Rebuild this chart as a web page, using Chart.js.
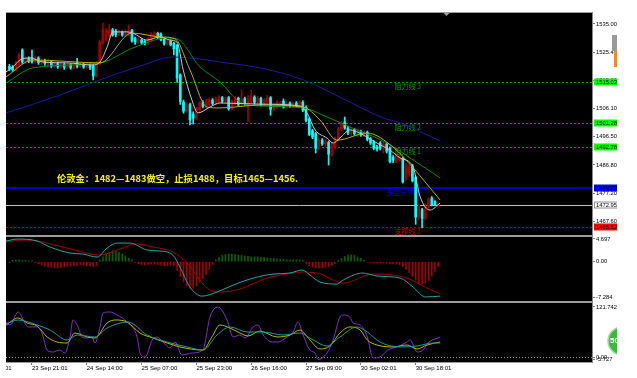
<!DOCTYPE html>
<html>
<head>
<meta charset="utf-8">
<script src="https://cdn.jsdelivr.net/npm/chart.js@4.4.1/dist/chart.umd.min.js"></script>
<style>
  html, body { margin: 0; padding: 0; background: #fff; }
  #wrap { position: relative; width: 617px; height: 378px; overflow: hidden; background: #fff; }
  #wrap div, #wrap canvas { position: absolute; }
  .pane { left: 6px; top: 12px; width: 587px; height: 351px; background: #000; }
  .sep { left: 6px; width: 587px; background: #9c9c9c; z-index: 5; }
  .vline { left: 592px; top: 12px; width: 1px; height: 351px; background: #8a8a8a; z-index: 5; }
</style>
</head>
<body>
<div id="wrap">
  <div class="pane"></div>
  <canvas id="main" width="637" height="236" style="left:0;top:0"></canvas>
  <canvas id="macd" width="637" height="66" style="left:0;top:236px"></canvas>
  <canvas id="osc" width="637" height="76" style="left:0;top:302px"></canvas>
  <div class="sep" style="top:12px;height:1px"></div>
  <div class="sep" style="top:235px;height:2px"></div>
  <div class="sep" style="top:301px;height:2px"></div>
  <div class="sep" style="top:362px;height:1px"></div>
  <div class="vline"></div>
</div>
<script>
// ---- candles (hourly bars, index 0..133) ----
const opens = [
  1520.5,1520.2,1519.3,1521.0,1526.1,1522.0,1523.2,1523.6,1522.0,1523.4, // 0-9
  1521.8,1522.6,1521.0,1522.0,1520.5,1521.5,1520.3,1521.2,1520.2,1521.2, // 10-19
  1520.0,1522.0,1520.5,1521.2,1520.3,1521.0,1520.8,1517.2,1521.5,1528.5, // 20-29
  1530.0,1531.0,1533.0,1532.6,1531.3,1532.2,1531.2,1531.5,1532.8,1530.0, // 30-39
  1528.8,1529.6,1529.0,1528.3,1529.5,1530.5,1531.8,1531.5,1529.8,1528.2, // 40-49
  1529.2,1528.4,1527.8,1517.6,1508.3,1505.2,1507.5,1504.2,1502.8,1505.5, // 50-59
  1508.2,1506.8,1507.5,1509.0,1507.8,1508.5,1509.8,1508.6,1509.8,1506.0, // 60-69
  1507.8,1509.6,1507.5,1509.5,1506.5,1508.5,1510.0,1508.2,1509.6,1507.5, // 70-79
  1508.3,1509.8,1505.8,1506.8,1507.2,1508.6,1506.6,1508.0,1507.0,1508.0, // 80-89
  1507.2,1508.3,1506.5,1502.5,1498.5,1497.5,1492.5,1495.3,1494.0,1494.5, // 90-99
  1490.5,1493.0,1495.5,1499.0,1501.5,1499.4,1497.7,1498.8,1497.0,1498.3, // 100-109
  1497.0,1498.0,1495.8,1494.8,1493.0,1494.3,1492.5,1494.0,1492.5,1489.5, // 110-119
  1488.0,1488.5,1489.0,1482.0,1484.0,1486.5,1482.5,1469.0,1471.5,1468.5, // 120-129
  1472.8,1475.5,1474.2,1472.6                                            // 130-133
];
const highs = [
  1521.2,1520.8,1522.3,1525.0,1526.5,1523.8,1523.8,1526.1,1524.0,1523.8,
  1523.2,1523.0,1522.8,1522.5,1522.0,1522.0,1521.8,1521.6,1521.6,1521.5,
  1522.2,1523.3,1521.6,1521.6,1521.5,1521.4,1521.2,1522.2,1529.5,1535.3,
  1533.5,1535.0,1533.5,1533.2,1532.8,1532.6,1533.0,1534.7,1533.2,1530.5,
  1530.2,1530.0,1529.4,1530.5,1532.2,1532.4,1532.2,1532.0,1530.2,1529.6,
  1529.6,1528.8,1528.0,1518.0,1509.0,1508.0,1508.0,1505.0,1506.5,1508.6,
  1508.8,1509.3,1509.8,1509.5,1510.0,1510.5,1510.2,1510.0,1510.2,1509.0,
  1510.2,1510.0,1512.4,1510.0,1510.5,1512.4,1510.5,1510.3,1510.0,1509.3,
  1510.6,1510.2,1508.0,1508.8,1508.5,1509.4,1508.2,1508.4,1508.3,1508.5,
  1508.8,1508.8,1507.0,1503.0,1499.0,1498.0,1496.0,1495.8,1495.4,1495.0,
  1494.6,1496.4,1499.6,1501.6,1503.2,1500.0,1499.4,1499.3,1498.9,1498.7,
  1498.4,1498.4,1496.2,1495.2,1493.5,1494.8,1494.6,1494.4,1493.0,1490.0,
  1490.5,1490.2,1489.5,1487.2,1486.8,1487.0,1483.0,1473.6,1472.0,1473.4,
  1475.6,1476.0,1474.6,1473.5
];
const lows = [
  1519.0,1518.8,1519.0,1520.5,1521.5,1521.5,1521.8,1521.6,1521.5,1521.2,
  1521.0,1520.8,1520.5,1520.0,1520.0,1519.8,1519.8,1519.5,1519.8,1519.5,
  1519.6,1520.0,1520.0,1519.8,1519.8,1519.4,1515.9,1516.8,1521.0,1528.0,
  1529.2,1530.5,1530.8,1530.6,1530.9,1530.8,1530.9,1531.0,1528.8,1528.0,
  1528.4,1528.0,1527.8,1528.0,1529.0,1530.2,1530.0,1529.2,1527.8,1527.8,
  1527.5,1524.4,1515.0,1507.5,1504.5,1504.8,1500.5,1500.8,1502.2,1505.0,
  1506.3,1506.4,1507.0,1507.2,1507.4,1508.0,1508.0,1508.2,1505.5,1505.6,
  1507.3,1507.0,1507.0,1507.2,1501.5,1508.0,1507.6,1507.8,1507.0,1507.0,
  1508.0,1503.8,1505.3,1506.3,1506.8,1506.2,1506.2,1506.5,1506.6,1506.8,
  1506.9,1505.0,1501.5,1496.8,1495.8,1490.9,1492.0,1493.5,1493.2,1486.8,
  1489.8,1492.5,1495.0,1498.5,1499.0,1497.2,1496.9,1497.0,1496.4,1496.6,
  1496.5,1495.0,1493.8,1492.0,1491.5,1491.9,1490.9,1490.9,1487.5,1487.6,
  1487.5,1488.0,1480.6,1481.6,1483.0,1481.0,1466.5,1468.0,1465.3,1468.0,
  1472.0,1472.8,1472.9,1472.4
];
const closes = [
  1519.6,1519.3,1521.5,1524.5,1522.0,1523.0,1522.3,1522.0,1523.4,1521.8,
  1522.6,1521.5,1522.2,1520.5,1521.5,1520.3,1521.0,1520.2,1521.2,1520.0,
  1521.7,1520.5,1521.2,1520.3,1521.0,1520.0,1517.2,1521.7,1528.8,1533.0,
  1532.8,1533.0,1531.2,1531.3,1532.2,1531.2,1532.4,1532.8,1529.2,1528.8,
  1529.6,1528.5,1528.3,1530.0,1531.5,1531.8,1530.3,1529.5,1528.2,1529.0,
  1527.9,1526.5,1516.5,1508.5,1505.2,1507.5,1502.2,1502.8,1506.0,1508.0,
  1506.8,1508.5,1509.0,1507.8,1509.2,1509.8,1508.6,1509.6,1506.0,1508.5,
  1509.6,1507.5,1509.2,1507.8,1509.0,1510.0,1508.2,1509.6,1507.5,1508.8,
  1509.8,1505.8,1507.3,1508.2,1508.0,1506.6,1507.8,1507.0,1507.9,1507.2,
  1508.3,1505.5,1502.0,1497.2,1496.4,1492.5,1495.3,1494.0,1494.8,1490.5,
  1494.0,1495.8,1499.0,1501.0,1499.4,1497.7,1498.8,1497.5,1498.3,1497.0,
  1497.9,1495.5,1494.3,1492.5,1492.3,1492.5,1494.0,1491.5,1488.0,1488.5,
  1490.0,1489.5,1481.0,1486.5,1486.0,1481.5,1469.0,1473.0,1468.5,1472.8,
  1475.0,1473.2,1473.3,1472.95
];

// ---- moving averages: [bar, price] ----
const maFast = [[-1.05,1518.6],[1.1,1520.3],[3.3,1522.7],[6.4,1523.4],[10.4,1522.0],[17.9,1521.7],[25.9,1521.0],[28.1,1522.0],[30.3,1527.1],[32.1,1532.3],[36.5,1532.3],[38.3,1531.9],[42.7,1529.5],[46.7,1530.6],[49.8,1529.5],[52,1528.8],[53.9,1519.3],[56.6,1509.0],[58.5,1504.6],[62.2,1506.6],[65.3,1508.0],[77.7,1507.6],[90.1,1507.0],[92.3,1504.6],[94.8,1498.8],[98.5,1496.0],[100.4,1494.3],[102.5,1496.0],[105.6,1498.8],[109.7,1497.1],[114,1494.3],[118,1491.9],[121.2,1489.2],[125.2,1486.1],[127.4,1475.9],[130.5,1471.4],[133.6,1473.8]];
const maMid = [[-1.05,1516.9],[7.3,1522.7],[28.1,1521.7],[38,1531.9],[46.7,1530.6],[51.4,1529.9],[56,1519.3],[61.3,1506.6],[65.3,1506.3],[77.7,1507.3],[91.1,1506.6],[96.3,1502.2],[101.6,1495.3],[111,1497.7],[119,1492.9],[125.2,1485.8],[133.6,1474.8]];
const maSlow = [[-1.05,1514.8],[7.3,1520.0],[28.1,1521.7],[38.3,1526.8],[48.9,1530.2],[52,1529.9],[59.1,1520.3],[65.3,1515.2],[71.5,1508.3],[77.7,1507.0],[91.1,1506.3],[98.5,1503.2],[105.6,1499.8],[117.1,1494.3],[125.2,1488.5],[133.6,1482.4]];
const maLong = [[-1.05,1504.6],[15.7,1510.7],[28.1,1515.9],[40.5,1520.6],[50.7,1523.7],[59.1,1523.0],[65.3,1522.0],[77.7,1520.0],[91.1,1515.9],[102.5,1510.0],[115.9,1502.9],[121.2,1501.2],[133.6,1495.0]];

// ---- MACD ----
const macdMain = [[-1.05,4.28],[2.7,4.69],[8.6,4.28],[12.6,3.04],[18.8,1.80],[22.8,1.59],[27.2,0.97],[30.3,2.83],[33.4,3.86],[37.4,3.86],[42.7,2.42],[46.7,2.21],[50.7,1.38],[52.9,-1.10],[56,-5.23],[59.7,-7.1],[64.4,-6.26],[69.4,-4.81],[75.6,-3.37],[81.8,-2.54],[87,-2.33],[90.8,-1.71],[93.2,-2.75],[96.3,-4.19],[101.6,-4.61],[103.5,-3.78],[109.7,-2.33],[114,-2.95],[121.2,-3.37],[125.2,-5.23],[129,-7.28],[133.6,-7.1]];
const macdSignal = [[-1.05,4.07],[4.2,4.48],[8.6,4.28],[17.9,2.83],[28.1,1.38],[33.4,2.42],[39.6,3.66],[44.5,3.04],[50.7,2.0],[55.1,-0.27],[61.3,-5.43],[65.3,-6.26],[71.5,-5.64],[79.9,-3.37],[88,-2.33],[90.1,-2.13],[95.4,-2.33],[103.5,-4.40],[112.8,-2.54],[123.3,-3.37],[129.5,-5.43],[133.6,-6.67]];
const macdHist = [
  -0.2,0.3,0.4,0.4,0.3,0.3,0.2,0.2,                                  // 0-7
  -0.2,-0.4,-0.7,-0.9,-1.1,-1.2,-1.3,-1.3,-1.2,-1.1,-1.0,-0.9,-0.8,-0.8,-0.7,-0.7,-0.8,-0.9,-1.0,-0.8, // 8-27
  0.4,1.0,1.6,2.0,2.3,2.3,2.0,1.6,1.2,0.8,0.4,                       // 28-38
  -0.2,-0.4,-0.6,-0.7,-0.6,-0.5,-0.5,-0.6,-0.7,-0.8,-0.8,-0.7,-0.8,  // 39-51
  -1.8,-3.0,-4.2,-5.0,-5.5,-5.5,-5.0,-4.3,-3.5,-2.6,-1.6,-0.6,       // 52-63
  0.4,0.9,1.3,1.5,1.6,1.6,1.5,1.4,1.3,1.2,1.1,1.0,1.0,1.0,0.9,0.9,0.8,0.7,0.7,0.6,0.5,0.5,0.4,0.4,0.4,0.4,0.4,0.3, // 64-91
  -0.4,-0.8,-1.1,-1.3,-1.3,-1.2,-1.1,-1.0,-0.8,-0.4,                 // 92-101
  0.3,0.7,1.1,1.4,1.4,1.3,1.0,0.7,0.3,                               // 102-110
  -0.1,-0.2,-0.3,-0.3,-0.3,-0.3,-0.3,-0.4,-0.4,-0.5,-0.6,-1.0,       // 111-122
  -1.6,-2.2,-3.0,-3.8,-4.3,-4.6,-4.4,-3.8,-3.0,-2.0,-1.0             // 123-133
];

// ---- oscillator (3 lines) ----
const oscFast = [[-1.05,85.2],[0.2,77.9],[2.7,109.6],[4.8,82.8],[5.8,73.1],[8.6,73.1],[10.1,58.4],[11.7,17.0],[13.5,12.2],[15.7,17.0],[17.2,9.7],[18.8,48.7],[19.7,90.1],[21.3,73.1],[22.5,48.7],[24.1,46.3],[25.6,48.7],[26.5,34.1],[28.1,73.1],[29,107.1],[31.2,109.6],[33.4,102.3],[36.5,85.2],[39.6,48.7],[40.5,9.7],[42.1,0],[44.3,41.4],[45.8,48.7],[47.6,36.5],[49.8,21.9],[51.4,36.5],[53.5,4.9],[56.6,9.7],[60,17.0],[62.2,97.4],[64.7,121.7],[67.5,90.1],[69.4,48.7],[71.5,53.6],[73.1,46.3],[75.6,73.1],[77.1,77.9],[78.7,53.6],[81.5,36.5],[83.3,36.5],[86.1,48.7],[88,60.9],[89.5,85.2],[91.1,53.6],[93.2,17.0],[94.8,9.7],[95.7,-5.7],[98.5,9.7],[100.4,41.4],[102.5,97.4],[103.5,102.3],[105.6,97.4],[106.6,82.8],[108.8,77.9],[111,48.7],[112.8,-2.4],[114.9,0],[117.4,17.0],[120.2,24.4],[123.3,36.5],[124.3,41.4],[126.4,12.2],[128.3,17.0],[129.8,34.1],[133.6,48.7]];
const oscMid = [[-1.05,77.9],[2.7,95.0],[5.5,82.8],[8.6,75.5],[11.7,48.7],[14.8,36.5],[17.9,34.1],[20.3,58.4],[24.1,48.7],[26.5,46.3],[30.3,82.8],[32.8,90.1],[36.5,85.2],[40.5,58.4],[44.5,46.3],[48.9,34.1],[52.9,24.4],[60,17.0],[62.8,48.7],[65.3,77.9],[68.4,70.6],[71.5,58.4],[74,51.1],[77.7,63.3],[83,48.7],[87,53.6],[90.1,65.7],[93.2,41.4],[96.3,19.5],[99.4,26.8],[102.5,58.4],[105.6,73.1],[108.8,65.7],[111,41.4],[114,29.2],[119,24.4],[123.3,29.2],[126.4,19.5],[129.5,29.2],[133.6,36.5]];
const oscSlow = [[-1.05,80.4],[2.7,90.1],[8.6,77.9],[12.6,65.7],[17.9,41.4],[21,53.6],[26.5,48.7],[30.3,70.6],[36.8,85.2],[42.7,53.6],[48.9,36.5],[55.1,24.4],[60,17.0],[64.4,53.6],[68.4,73.1],[73.7,60.9],[78.7,60.9],[84.9,53.6],[90.1,58.4],[94.2,41.4],[98.5,26.8],[102.5,48.7],[107.8,73.1],[111,60.9],[114.9,36.5],[121.2,24.4],[126.4,26.8],[131.4,34.1],[133.6,34.1]];

// ---- axes / levels ----
const timeIdx = [7, 24, 41, 58, 75, 92, 109, 126];
const timeLabels = ['23 Sep 21:01','24 Sep 14:00','25 Sep 07:00','25 Sep 23:00','26 Sep 16:00','27 Sep 09:00','30 Sep 02:01','30 Sep 18:01'];
const firstLabel = { idx: -10.4, text: '23 Sep 04:01' };  // cut off at the left edge
const priceTicks = [1535.00, 1525.40, 1515.80, 1506.10, 1496.50, 1486.80, 1477.20, 1467.60];
const macdTicks = [4.697, 0, -7.284];
const macdTickText = ['4.697', '0.00', '-7.284'];
const oscTicks = [121.742, 0, -5.727];
const oscTickText = ['121.742', '0.00', '-5.727'];
const levelVals = [1515.03, 1501.28, 1492.78, 1479.02, 1465.52];
const levelNames = ['阻力线 3', '阻力线 2', '阻力线 1', '多空分界线', '支撑线 1'];
const lastPrice = 1472.95;
const note = '伦敦金：1482—1483做空，止损1488，目标1465—1456.';

const X_MIN = -1.055, X_MAX = 181.0;
const CYAN = '#00ffff', RED = '#a00000';
const FONT = 'Liberation Sans';

const pts = arr => arr.map(p => ({ x: p[0], y: p[1] }));
const candleCol = closes.map((c, i) => c >= opens[i] ? RED : CYAN);

function xAxis(show) {
  return {
    type: 'linear', min: X_MIN, max: X_MAX, offset: false, display: show,
    grid: { offset: false, drawOnChartArea: false, tickLength: 3, color: '#808080' },
    border: { display: false },
    afterBuildTicks: s => { s.ticks = timeIdx.map(v => ({ value: v })); },
    afterFit: s => { s.height = show ? 16 : 0; s.paddingLeft = 0; s.paddingRight = 0; },
    ticks: { autoSkip: false, maxRotation: 0, align: 'start', padding: 0, color: '#000',
      font: { family: FONT, size: 6 }, callback: (v, i) => timeLabels[i] }
  };
}
function yAxis(min, max, vals, texts) {
  return {
    position: 'right', min, max,
    afterFit: s => { s.width = 44; s.paddingTop = 0; s.paddingBottom = 0; },
    afterBuildTicks: s => { s.ticks = vals.map(v => ({ value: v })); },
    ticks: { autoSkip: false, padding: 1, color: '#000', font: { family: FONT, size: 5.8 },
      callback: (v, i) => texts[i] },
    grid: { drawOnChartArea: false, drawTicks: true, tickLength: 2, color: '#808080' },
    border: { display: false }
  };
}
function line(data, color, order) {
  return { type: 'line', data: pts(data), borderColor: color, borderWidth: 1, pointRadius: 0,
    cubicInterpolationMode: 'monotone', fill: false, order, clip: 0 };
}
const common = {
  responsive: false, animation: false, devicePixelRatio: 1, events: [],
  plugins: { legend: { display: false }, tooltip: { enabled: false } }
};

// levels, note and axis boxes on the price pane
const levelPlugin = {
  id: 'levels',
  beforeDatasetsDraw(chart) {
    const { ctx, chartArea: a, scales: { y } } = chart;
    ctx.save();
    levelVals.forEach((v, i) => {
      const py = Math.round(y.getPixelForValue(v));
      const blue = i === 3, red = i === 4;
      ctx.strokeStyle = blue ? '#0000c8' : red ? '#c00000' : '#00a000';
      ctx.lineWidth = blue ? 2 : 1;
      ctx.setLineDash(blue ? [] : [2, 2]);
      ctx.beginPath();
      ctx.moveTo(a.left, py + (blue ? 0 : 0.5));
      ctx.lineTo(a.right, py + (blue ? 0 : 0.5));
      ctx.stroke();
      ctx.fillStyle = blue ? '#0000e0' : red ? '#d00000' : '#00a000';
      ctx.font = '7px "Noto Sans CJK SC"';
      ctx.textAlign = 'right';
      ctx.textBaseline = 'top';
      ctx.fillText(levelNames[i], 421, py + 0.5);
    });
    const lp = Math.round(y.getPixelForValue(lastPrice)) + 0.5;
    ctx.setLineDash([]);
    ctx.strokeStyle = '#bdbdbd';
    ctx.lineWidth = 1;
    ctx.beginPath(); ctx.moveTo(a.left, lp); ctx.lineTo(a.right, lp); ctx.stroke();
    ctx.restore();
  },
  afterDatasetsDraw(chart) {
    const { ctx } = chart;
    ctx.save();
    ctx.font = 'bold 9.5px "Noto Sans CJK SC"';
    ctx.fillStyle = '#f5f500';
    ctx.textAlign = 'left';
    ctx.textBaseline = 'middle';
    ctx.fillText(note, 57, 178.5, 241);
    ctx.restore();
  },
  afterDraw(chart) {
    const { ctx, chartArea: a, scales: { y } } = chart;
    const boxes = [[levelVals[0], '#00ff00'], [levelVals[1], '#00ff00'], [levelVals[2], '#00ff00'],
      [levelVals[3], '#0000ff'], [lastPrice, '#ffffff'], [levelVals[4], '#ff0000']];
    ctx.save();
    ctx.font = '5.8px ' + FONT;
    ctx.textBaseline = 'middle';
    ctx.textAlign = 'left';
    boxes.forEach(([v, bg]) => {
      const py = Math.round(y.getPixelForValue(v));
      ctx.fillStyle = bg;
      ctx.fillRect(a.right + 1, py - 3.5, 30, 7);
      if (bg === '#ffffff') {
        ctx.strokeStyle = '#909090';
        ctx.strokeRect(a.right + 1.5, py - 3, 30, 6);
      }
      ctx.fillStyle = '#000';
      ctx.fillText(v.toFixed(2), a.right + 3, py + 0.5);
    });
    // shift marker at top and terminal widget at right edge
    ctx.fillStyle = '#a0a0a0';
    ctx.beginPath(); ctx.moveTo(443.5, 13); ctx.lineTo(449.5, 13); ctx.lineTo(446.5, 16); ctx.closePath(); ctx.fill();
    ctx.fillStyle = '#9a9a9a'; ctx.fillRect(612, 35, 8, 16);
    ctx.fillStyle = '#f08a2a'; ctx.fillRect(614, 51, 6, 16);
    ctx.restore();
  }
};

new Chart(document.getElementById('main'), {
  type: 'bar',
  data: {
    datasets: [
      line(maFast, '#c8c8c8', 0),
      line(maMid, '#b4b400', 0),
      line(maSlow, '#009000', 0),
      line(maLong, '#1a1aa6', 0),
      { type: 'bar', data: opens.map((o, i) => ({ x: i, y: [o, closes[i]] })), backgroundColor: candleCol,
        barThickness: 2, grouped: false, order: 1, clip: 0 },
      { type: 'bar', data: highs.map((h, i) => ({ x: i, y: [lows[i], h] })), backgroundColor: candleCol,
        barThickness: 1, grouped: false, order: 2, clip: 0 }
    ]
  },
  options: Object.assign({}, common, {
    layout: { padding: { left: 6, top: 12, right: 0, bottom: 1 } },
    scales: { x: xAxis(false), y: yAxis(1462.86, 1539.10, priceTicks, priceTicks.map(v => v.toFixed(2))) }
  }),
  plugins: [levelPlugin]
});

new Chart(document.getElementById('macd'), {
  type: 'bar',
  data: {
    datasets: [
      line(macdMain, '#1fa6a6', 0),
      line(macdSignal, '#a00000', 0),
      { type: 'bar', data: macdHist.map((v, i) => ({ x: i, y: v })),
        backgroundColor: macdHist.map(v => v >= 0 ? '#006400' : '#a00000'),
        barThickness: 1, grouped: false, order: 2, clip: 0 }
    ]
  },
  options: Object.assign({}, common, {
    layout: { padding: { left: 6, top: 1, right: 0, bottom: 1 } },
    scales: { x: xAxis(false), y: yAxis(-8.11, 5.11, macdTicks, macdTickText) }
  })
});

const oscPlugin = {
  id: 'oscExtras',
  beforeDatasetsDraw(chart) {
    const { ctx, chartArea: a, scales: { y } } = chart;
    const py = Math.round(y.getPixelForValue(0)) + 0.5;
    ctx.save();
    ctx.strokeStyle = '#9a9a9a';
    ctx.setLineDash([1, 2]);
    ctx.beginPath(); ctx.moveTo(a.left, py); ctx.lineTo(a.right, py); ctx.stroke();
    ctx.restore();
  },
  afterDraw(chart) {
    const { ctx, chartArea: a, scales: { x } } = chart;
    ctx.save();
    // leftmost time label, mostly outside the window
    ctx.beginPath(); ctx.rect(a.left, a.bottom, 60, 16); ctx.clip();
    ctx.fillStyle = '#000';
    ctx.font = '6px ' + FONT;
    ctx.textAlign = 'left';
    ctx.textBaseline = 'top';
    ctx.fillText(firstLabel.text, x.getPixelForValue(firstLabel.idx), a.bottom + 3.5);
    ctx.restore();
    ctx.save();
    ctx.fillStyle = '#3cb93c';
    ctx.strokeStyle = '#a8dca8';
    ctx.lineWidth = 1.5;
    ctx.beginPath(); ctx.arc(622, 39, 14, 0, Math.PI * 2); ctx.fill(); ctx.stroke();
    ctx.fillStyle = '#fff';
    ctx.font = 'bold 8px ' + FONT;
    ctx.textBaseline = 'middle';
    ctx.fillText('50', 610, 39);
    ctx.restore();
  }
};

new Chart(document.getElementById('osc'), {
  type: 'line',
  data: {
    datasets: [
      line(oscFast, '#7f2fc8', 2),
      line(oscMid, '#b8b800', 1),
      line(oscSlow, '#1a9a9a', 0)
    ]
  },
  options: Object.assign({}, common, {
    layout: { padding: { left: 6, top: 1, right: 0, bottom: 0 } },
    scales: { x: xAxis(true), y: yAxis(-12.17, 131.48, oscTicks, oscTickText) }
  }),
  plugins: [oscPlugin]
});
</script>
</body>
</html>
